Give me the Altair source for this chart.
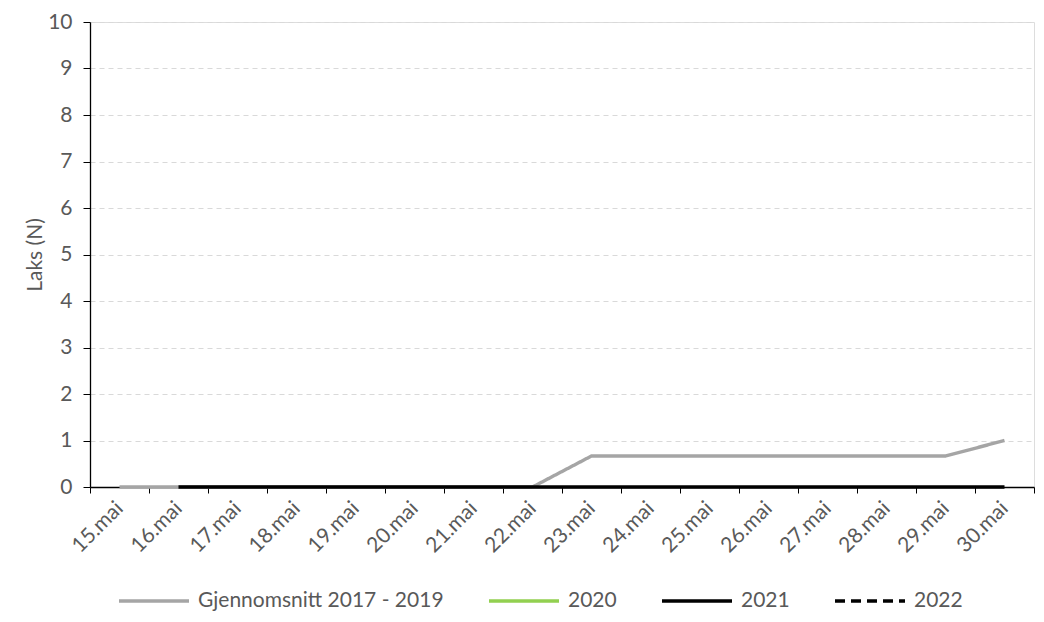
import altair as alt
import pandas as pd

days = ["15.mai", "16.mai", "17.mai", "18.mai", "19.mai", "20.mai", "21.mai", "22.mai",
        "23.mai", "24.mai", "25.mai", "26.mai", "27.mai", "28.mai", "29.mai", "30.mai"]
avg_2017_2019 = [0, 0, 0, 0, 0, 0, 0, 0, 0.667, 0.667, 0.667, 0.667, 0.667, 0.667, 0.667, 1]
y2020 = [None] * 16
y2021 = [None] + [0] * 15
y2022 = [None] * 16

series = ["Gjennomsnitt 2017 - 2019", "2020", "2021", "2022"]
colors = ["#A5A5A5", "#92D050", "#000000", "#000000"]
dashes = [[1, 0], [1, 0], [1, 0], [10, 6]]

rows = []
for name, vals in zip(series, [avg_2017_2019, y2020, y2021, y2022]):
    for d, v in zip(days, vals):
        if v is not None:
            rows.append({"dag": d, "laks": v, "serie": name})
df = pd.DataFrame(rows)

FONT = "Lato"
GREY = "#595959"
FS = 21

chart = alt.Chart(df).mark_line(strokeWidth=3.4, strokeCap="butt").encode(
    x=alt.X("dag:N", sort=days,
            scale=alt.Scale(domain=days, paddingInner=0, paddingOuter=0),
            axis=alt.Axis(title=None, labelAngle=-45, labelAlign="right", labelBaseline="middle",
                          labelFontSize=FS, labelColor=GREY, labelFont=FONT, labelPadding=12,
                          tickBand="extent", ticks=True, tickColor="#000000", tickSize=6,
                          domainColor="#000000", domainWidth=1.3, grid=False)),
    y=alt.Y("laks:Q",
            scale=alt.Scale(domain=[0, 10], nice=False),
            axis=alt.Axis(title="Laks (N)", values=list(range(0, 11)), labelFontSize=FS,
                          labelColor=GREY, labelFont=FONT, labelPadding=11, titleFont=FONT,
                          titleFontSize=FS, titleColor=GREY, titleFontWeight="normal",
                          titlePadding=2, tickColor="#000000", tickSize=7,
                          domainColor="#000000", domainWidth=1.3,
                          grid=True, gridColor="#D9D9D9", gridDash=[5, 4], gridWidth=1)),
    color=alt.Color("serie:N", scale=alt.Scale(domain=series, range=colors), title=None,
                    legend=alt.Legend(orient="none", legendX=27, legendY=542, direction="horizontal",
                                      symbolType="stroke", symbolSize=4900, symbolStrokeWidth=3.4,
                                      labelFontSize=FS, labelColor=GREY, labelFont=FONT,
                                      labelLimit=0, columnPadding=38, labelOffset=7)),
    strokeDash=alt.StrokeDash("serie:N", scale=alt.Scale(domain=series, range=dashes), title=None),
    order=alt.Order("serie:N"),
).properties(
    width=944, height=465,
    autosize=alt.AutoSizeParams(type="none"),
    padding={"left": 82, "top": 14, "right": 2, "bottom": 127},
).configure_view(stroke=None).configure(font=FONT).configure_legend(symbolStrokeWidth=3.4)

chart.save("out.html", embed_options={"renderer": "svg", "actions": False})
